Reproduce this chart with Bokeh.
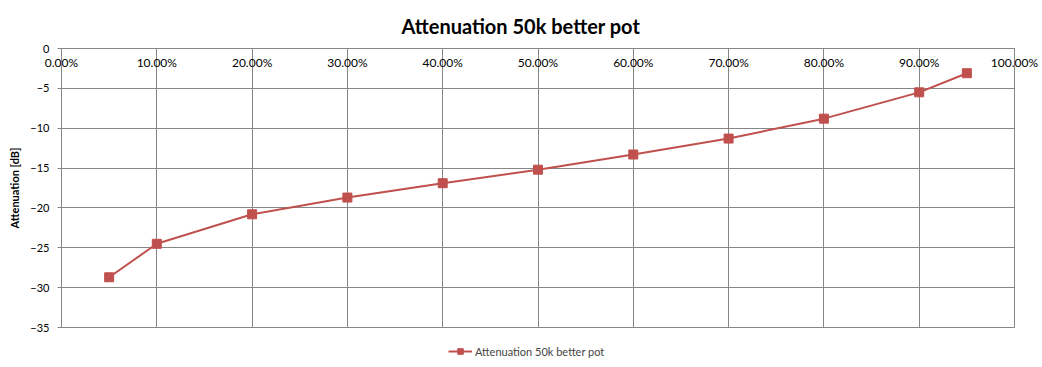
from bokeh.plotting import figure
from bokeh.layouts import column
from bokeh.models import (Range1d, NumeralTickFormatter, FixedTicker, Legend, LegendItem)
from bokeh.embed import file_html
from bokeh.resources import INLINE

# Data
position = [0.05, 0.10, 0.20, 0.30, 0.40, 0.50, 0.60, 0.70, 0.80, 0.90, 0.95]
attenuation_db = [-28.7, -24.5, -20.8, -18.7, -16.9, -15.2, -13.3, -11.3, -8.8, -5.5, -3.1]
x_ticks = [0.0, 0.1, 0.2, 0.3, 0.4, 0.5, 0.6, 0.7, 0.8, 0.9, 1.0]
y_ticks = [0, -5, -10, -15, -20, -25, -30, -35]
series_name = "Attenuation 50k better pot"
title_text = "Attenuation 50k better pot"
y_label = "Attenuation [dB]"

FONT = "Lato"
GRID = "#868686"
RED = "#C0504D"

p = figure(frame_width=953, frame_height=279,
           output_backend="svg", toolbar_location=None,
           x_range=Range1d(0, 1), y_range=Range1d(-35, 0),
           x_axis_location="above",
           min_border_left=61, min_border_right=28, min_border_top=47, min_border_bottom=10)

p.outline_line_color = GRID
p.background_fill_color = "white"
p.border_fill_color = "white"

p.title.text = title_text
p.title.align = "left"
p.title.offset = 340
p.title.standoff = 22
p.title.text_font = FONT
p.title.text_font_size = "20px"
p.title.text_font_style = "bold"
p.title.text_color = "#000000"

# x axis at the top (y = 0), labels hanging below it
xa = p.xaxis[0]
xa.ticker = FixedTicker(ticks=x_ticks)
xa.formatter = NumeralTickFormatter(format="0.00%")
xa.major_tick_out = 0
xa.major_tick_in = 0
xa.minor_tick_out = 0
xa.minor_tick_in = 0
xa.axis_line_color = GRID
xa.major_label_text_font = FONT
xa.major_label_text_font_size = "12px"
xa.major_label_text_color = "#000000"
xa.major_label_standoff = -21

ya = p.yaxis[0]
ya.ticker = FixedTicker(ticks=y_ticks)
ya.major_tick_out = 4
ya.major_tick_in = 0
ya.minor_tick_out = 0
ya.minor_tick_in = 0
ya.axis_line_color = GRID
ya.major_tick_line_color = GRID
ya.major_label_text_font = FONT
ya.major_label_text_font_size = "11px"
ya.major_label_text_color = "#000000"
ya.major_label_standoff = 8
ya.axis_label = y_label
ya.axis_label_text_font = FONT
ya.axis_label_text_font_size = "11px"
ya.axis_label_text_font_style = "bold"
ya.axis_label_text_color = "#000000"
ya.axis_label_standoff = 6

p.xgrid.ticker = FixedTicker(ticks=x_ticks)
p.ygrid.ticker = FixedTicker(ticks=y_ticks)
p.grid.grid_line_color = GRID
p.grid.grid_line_width = 1

p.line(position, attenuation_db, line_color=RED, line_width=2)
p.scatter(position, attenuation_db, marker="square", size=9,
          fill_color=RED, line_color=RED)

# legend strip below the chart (same series, its glyphs kept out of view)
lg = figure(width=1042, height=31, output_backend="svg", toolbar_location=None,
            x_range=Range1d(10, 11), y_range=Range1d(10, 11),
            x_axis_location=None, y_axis_location=None,
            min_border=0, outline_line_color=None)
lg.grid.visible = False
lg.background_fill_color = "white"
lg.border_fill_color = "white"
l_ln = lg.line(position, attenuation_db, line_color=RED, line_width=2)
l_mk = lg.scatter(position, attenuation_db, marker="square", size=9,
                  fill_color=RED, line_color=RED)
legend = Legend(items=[LegendItem(label=series_name, renderers=[l_ln, l_mk])],
                orientation="horizontal", location=(387, 10),
                border_line_color=None, background_fill_alpha=0,
                label_text_font=FONT, label_text_font_size="11px",
                glyph_width=24, glyph_height=14, label_standoff=3,
                padding=2, margin=0)
lg.add_layout(legend)

layout = column(p, lg, spacing=0)
open("out.html", "w").write(file_html(layout, INLINE))
